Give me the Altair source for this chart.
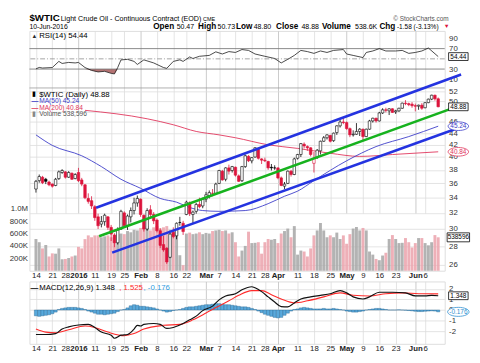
import altair as alt
import pandas as pd

# ------------------------------------------------------------------ data
# daily candles, 14-Dec-2015 .. 10-Jun-2016 (trading days only)
OPEN = [35.2, 36.4, 36.9, 36.6, 36.2, 35.9, 35.7, 36.7, 37.6, 37.7, 36.9, 37.5, 36.7,
        37.6, 36.5, 35.8, 33.9, 33.6, 32.8, 31.5, 30.6, 30.9, 31.5, 30.2, 29.3, 28.4, 30.0, 32.0, 30.4, 31.5, 32.3, 33.3,
        33.8, 31.7, 30.0, 32.4, 31.8, 31.1, 29.8, 28.2, 27.8, 26.8, 29.6, 29.2, 30.8, 30.7, 31.8, 33.3, 31.8, 32.2, 33.1, 32.9,
        33.8, 34.3, 34.6, 34.6, 36.0, 37.8, 36.6, 38.3, 37.9, 38.4, 37.1, 36.4, 38.5, 40.1, 39.4, 40.0, 41.4, 39.7, 39.5, 39.3, 38.4, 38.3,
        38.3, 36.8, 35.6, 36.0, 37.8, 37.3, 39.8, 40.4, 42.1, 41.7, 41.5, 39.0, 39.9, 41.0, 42.6, 43.2, 43.6, 42.7, 44.1, 45.3, 46.0,
        45.9, 44.8, 43.7, 43.8, 44.3, 44.7, 43.4, 44.7, 46.2, 46.7, 46.2, 47.7, 48.3, 48.1, 48.5, 47.9, 48.1, 48.6, 49.6, 49.5, 49.4,
        49.1, 49.0, 49.2, 48.7, 49.7, 50.4, 51.2, 50.47]
HIGH = [36.5, 37.3, 37.1, 36.8, 36.4, 36.0, 36.8, 37.9, 38.1, 37.8, 37.8, 37.6, 37.5,
        38.3, 36.8, 35.9, 34.6, 34.2, 33.0, 31.9, 31.6, 31.9, 31.6, 30.5, 29.5, 30.2, 32.4, 32.2, 31.8, 32.7, 34.0, 34.3,
        33.9, 31.8, 32.6, 33.0, 32.1, 31.3, 30.1, 29.2, 27.9, 29.5, 30.2, 30.8, 31.5, 31.0, 33.6, 33.5, 32.3, 33.3, 34.0, 34.0,
        34.8, 35.0, 35.2, 36.1, 38.0, 38.0, 38.4, 38.8, 38.6, 38.5, 37.3, 38.6, 40.4, 40.3, 40.0, 41.6, 41.5, 39.8, 39.9, 39.4, 38.9, 38.7,
        38.4, 37.0, 36.2, 37.9, 38.0, 39.9, 40.5, 42.3, 42.4, 41.9, 41.6, 40.8, 41.3, 42.7, 43.5, 43.8, 43.7, 44.1, 45.4, 46.5, 46.8,
        46.1, 45.0, 44.5, 45.8, 44.9, 44.8, 44.8, 46.4, 46.8, 46.8, 47.9, 48.6, 48.7, 48.6, 48.6, 48.3, 48.7, 49.7, 50.2, 49.7, 49.8,
        49.5, 49.3, 49.6, 49.8, 50.5, 51.3, 51.3, 50.73]
LOW = [34.7, 36.1, 35.9, 35.9, 35.6, 35.4, 35.6, 36.5, 37.4, 36.7, 36.8, 36.5, 36.6,
       36.2, 35.6, 33.8, 33.2, 32.5, 31.0, 30.0, 30.2, 30.4, 29.9, 28.6, 27.9, 28.2, 29.9, 30.2, 29.9, 30.8, 31.8, 32.8,
       31.5, 29.7, 29.8, 31.3, 30.6, 29.6, 27.8, 27.4, 26.1, 26.7, 28.9, 28.8, 30.4, 29.3, 31.7, 31.6, 30.6, 31.9, 32.6, 32.6,
       33.4, 33.9, 34.2, 34.5, 35.9, 36.4, 36.3, 37.3, 37.6, 37.0, 36.2, 36.2, 38.3, 39.2, 39.0, 39.9, 39.6, 38.9, 39.2, 38.0, 37.9, 38.0,
       36.6, 35.6, 35.2, 35.9, 37.0, 37.2, 39.6, 40.0, 41.4, 41.0, 40.1, 37.6, 39.7, 40.4, 42.5, 42.9, 42.4, 42.5, 43.7, 45.0, 45.6,
       44.6, 43.3, 43.4, 43.7, 43.5, 42.8, 43.3, 44.6, 45.9, 45.9, 46.1, 47.5, 47.8, 47.3, 47.7, 47.5, 47.9, 48.5, 49.2, 49.0, 48.7,
       48.0, 48.3, 48.3, 48.6, 49.6, 50.2, 50.1, 48.80]
CLOSE = [36.3, 37.0, 36.1, 36.3, 35.8, 35.6, 36.6, 37.7, 37.9, 36.9, 37.6, 36.6, 37.3,
         36.4, 35.9, 34.0, 33.5, 32.9, 31.4, 30.4, 30.9, 31.7, 30.2, 29.4, 28.4, 29.9, 32.2, 30.4, 31.6, 32.3, 33.3, 33.9,
         31.8, 30.0, 32.3, 31.8, 31.0, 29.8, 28.1, 27.6, 26.3, 29.4, 29.1, 30.7, 30.8, 29.7, 33.4, 31.9, 32.1, 33.1, 32.8, 33.8,
         34.4, 34.7, 34.6, 35.9, 37.9, 36.5, 38.3, 37.8, 38.5, 37.2, 36.3, 38.5, 40.2, 39.4, 39.9, 41.5, 39.8, 39.5, 39.4, 38.3, 38.3, 38.3,
         36.8, 35.7, 35.9, 37.8, 37.3, 39.7, 40.4, 42.2, 41.8, 41.5, 40.4, 39.8, 41.1, 42.6, 43.2, 43.7, 42.6, 44.0, 45.3, 46.0, 45.9,
         44.8, 43.7, 43.8, 44.3, 44.7, 43.4, 44.7, 46.2, 46.7, 46.2, 47.7, 48.3, 48.2, 48.5, 47.8, 48.1, 48.6, 49.6, 49.5, 49.3, 49.1,
         49.0, 49.2, 48.6, 49.7, 50.4, 51.2, 50.46, 48.88]
VOLUME_K = [510, 460, 360, 415, 230, 280, 275, 360, 185, 190, 205, 230, 245,
            385, 360, 510, 570, 540, 570, 570, 540, 555, 570, 540, 560, 590, 600, 590, 640, 620, 660, 650,
            690, 700, 720, 650, 700, 720, 680, 700, 720, 660, 650, 640, 250, 90, 600, 615, 590, 600, 620, 590,
            610, 600, 640, 650, 660, 640, 650, 600, 620, 460, 230, 325, 400, 630, 446, 450, 460, 275, 460, 512, 500, 512,
            446, 600, 640, 680, 540, 720, 260, 325, 310, 230, 360, 570, 650, 770, 650, 540, 570, 540, 615, 512, 570,
            435, 590, 680, 705, 650, 690, 650, 310, 260, 190, 170, 245, 290, 512, 575, 512, 446, 450, 527, 460, 375,
            446, 527, 527, 446, 410, 460, 575, 539]
MA50_I = [0, 5, 14, 20, 26, 32, 38, 43, 47, 51, 56, 64, 71, 76, 80, 85, 95, 104, 114, 123]
MA50_V = [43.7, 41.9, 40.2, 38.5, 36.6, 35.3, 33.9, 33.4, 32.7, 32.3, 32.2, 32.3, 33.2, 34.2, 34.9, 36.4, 39.4, 41.7, 43.4, 45.24]
MA200_I = [15, 34, 42, 49, 56, 61, 71, 80, 90, 99, 109, 123]
MA200_V = [48.2, 46.6, 45.5, 44.3, 43.7, 43.2, 42.0, 41.4, 40.6, 40.1, 40.4, 40.84]
RSI_I = [0, 1, 2, 5, 7, 8, 10, 12, 13, 15, 17, 19, 21, 23, 24, 25, 26, 28, 30, 31, 33, 36, 39, 40, 42, 44, 45, 47, 48, 50,
         53, 55, 57, 59, 61, 63, 65, 67, 70, 73, 75, 77, 79, 81, 83, 85, 87, 89, 91, 94, 95, 97, 100, 101, 103, 105, 107,
         110, 112, 114, 116, 118, 120, 123]
RSI_V = [30.4, 33.2, 32, 33, 45, 41, 43, 42, 43, 33, 27.4, 24.4, 25.6, 21.6, 20.5, 33, 47.9, 49, 45, 39, 48, 42, 33, 31.4,
         45, 48, 45, 53.7, 50.7, 55, 56.7, 63.7, 59.5, 64.2, 62.5, 68.2, 66.5, 59.5, 55, 50.7, 42, 49, 56.7, 66.5, 64.2,
         60.7, 65.4, 62.5, 66.5, 68.2, 59.5, 56.7, 52.5, 62.5, 65.4, 70, 65.4, 65.4, 66.5, 60.7, 62.5, 65.4, 71.2, 54.44]
MACD_I = [0, 3, 6, 8, 10, 13, 16, 18, 20, 23, 24, 26, 28, 30, 31, 32, 33, 36, 38, 40, 42, 45, 47, 49, 51, 54, 56, 58, 61,
          63, 66, 67, 69, 71, 73, 75, 77, 79, 81, 84, 87, 90, 93, 95, 97, 100, 102, 105, 109, 113, 116, 119, 121, 123]
MACD_V = [-2.32, -2.32, -2.23, -1.8, -1.6, -1.42, -1.36, -1.65, -2.09, -2.38, -2.67, -2.38, -2.32, -1.8, -1.45, -1.51,
          -1.36, -1.28, -1.36, -1.74, -1.65, -1.28, -0.93, -0.58, -0.06, 0.37, 0.96, 1.33, 1.54, 1.91, 2.2, 2.1, 1.74,
          1.24, 0.75, 0.32, 0.29, 0.67, 1.04, 1.24, 1.39, 1.54, 1.83, 1.62, 1.24, 1.04, 1.24, 1.68, 1.68, 1.62, 1.33,
          1.33, 1.39, 1.348]
SIGNAL_I = [0, 3, 6, 10, 15, 18, 22, 27, 30, 33, 39, 44, 48, 52, 55, 59, 62, 66, 69, 72, 75, 79, 83, 88, 93, 97, 102,
            107, 112, 117, 123]
SIGNAL_V = [-1.8, -2.09, -2.15, -1.86, -1.51, -1.65, -2.09, -2.43, -2.23, -1.8, -1.45, -1.36, -0.93, -0.29, 0.23, 0.87,
            1.39, 1.83, 1.83, 1.45, 1.04, 0.67, 0.87, 1.24, 1.62, 1.39, 1.33, 1.54, 1.62, 1.54, 1.525]
HIST = [-0.55, -0.6, -0.55, -0.5, -0.45, -0.35, -0.2,
        0.05, 0.15, 0.2, 0.25, 0.25, 0.25, 0.2, 0.15, 0.05,
        -0.1, -0.2, -0.3, -0.4, -0.4, -0.45, -0.4, -0.35, -0.3, -0.15,
        0.0, 0.05, 0.2,
        0.4, 0.5, 0.45, 0.35, 0.35, 0.3, 0.25, 0.2, 0.1, 0.0,
        -0.1, -0.2, -0.15, -0.05, 0.0, 0.05,
        0.15, 0.25, 0.3, 0.3, 0.35, 0.4, 0.45,
        0.5, 0.5, 0.55, 0.6, 0.6, 0.55, 0.5, 0.5, 0.45,
        0.4, 0.35, 0.3, 0.3, 0.25, 0.15, 0.05,
        -0.1, -0.25, -0.4, -0.5, -0.6, -0.7, -0.75, -0.7, -0.5,
        -0.3, -0.1, 0.05, 0.1,
        0.2, 0.25, 0.2, 0.15, 0.1,
        0.1, 0.1, 0.15, 0.1, 0.1, 0.15, 0.1, 0.05, 0.0,
        -0.1, -0.15, -0.2, -0.2, -0.15, -0.1, 0.0,
        0.05, 0.1, 0.15, 0.15, 0.1, 0.05, 0.0,
        0.0, 0.0, 0.02, 0.0, -0.02, -0.05, -0.08,
        -0.12, -0.15, -0.15, -0.12, -0.1, -0.08, -0.1, -0.176]
TREND_NAME = ["upper", "upper", "middle", "middle", "lower", "lower"]
TREND_I = [18.4, 130, 19.3, 130, 23.3, 130]
TREND_V = [32.67, 55.6, 29.15, 49.2, 27.3, 45.1]
TICK_IDX = [0, 5, 9, 13, 18, 23, 27, 32, 37, 42, 46, 52, 56, 61, 66, 70, 74, 80, 85, 90, 95, 100, 105, 110, 116, 119]
TICK_LABELS = ["14", "21", "28", "2016", "11", "19", "25", "Feb", "8", "16", "22", "Mar", "7", "14", "21", "28",
               "Apr", "11", "18", "25", "May", "9", "16", "23", "Jun", "6"]
BOLD_TICKS = ["2016", "Feb", "Mar", "Apr", "May", "Jun"]
PRICE_TICKS = [26, 28, 30, 32, 34, 36, 38, 40, 42, 44, 46, 48, 50, 52]
HIDDEN_PRICE_LABELS = [48]
VOL_TICKS = [200000, 400000, 600000, 800000, 1000000]
RSI_TICKS = [10, 30, 70, 90]
MACD_TICKS = [-2, -1, 0, 1, 2]

# ------------------------------------------------------------------ style
SANS = "Liberation Sans"
W = 426
H_RSI, H_PRICE, H_MACD = 58, 187, 64
H_TOP = H_RSI + 1 + H_PRICE
P0 = H_RSI + 1          # top of the price area inside the upper panel
N = len(CLOSE)
RED = "#dc143c"
MA50_C = "#3a3ac8"
MA200_C = "#e0345a"
TBLUE = "#2433e0"
TGREEN = "#16b21e"
TAGX = W + 14
BOX = "M-1,-0.4L1,-0.4L1,0.4L-1,0.4Z"
OVAL = "M-1,0A1,0.42,0,1,1,1,0A1,0.42,0,1,1,-1,0Z"
GRID = "#dcdcdc"

XSCALE = alt.Scale(domain=[-0.5, N - 0.5], nice=False, zero=False)
RSCALE = alt.Scale(domain=[-6, 104.6], range=[H_RSI, 0], nice=False, zero=False)
PSCALE = alt.Scale(type="log", domain=[25.4, 52.6], range=[H_TOP, P0], nice=False, zero=False)
VSCALE = alt.Scale(domain=[0, 2940000], range=[H_TOP, P0], nice=False, zero=False)
MSCALE = alt.Scale(domain=[-3.2, 2.7], nice=False, zero=False)

tick_list = ",".join(str(t) for t in TICK_IDX)
lab_list = ",".join("'" + s + "'" for s in TICK_LABELS)
LABEL_EXPR = "[" + lab_list + "][indexof([" + tick_list + "], datum.value)]"
bold_idx = ",".join(str(t) for t, s in zip(TICK_IDX, TICK_LABELS) if s in BOLD_TICKS)
BOLD_TEST = "indexof([" + bold_idx + "], datum.value) >= 0"
GRID_X = {"condition": {"test": BOLD_TEST, "value": "#bdbdbd"}, "value": GRID}

DATE_AXIS = alt.Axis(values=TICK_IDX, labelExpr=LABEL_EXPR,
                     labelFontWeight={"condition": {"test": BOLD_TEST, "value": "bold"}, "value": "normal"},
                     labelFontSize=8, labelPadding=1, labelFlush=False, labelOverlap=False, labelBound=False,
                     labelColor="#222", ticks=False, domain=False, grid=True, gridColor=GRID_X, gridWidth=0.8,
                     title=None)


def right_axis(values, grid=False, expr=None):
    kw = dict(orient="right", values=values, title=None, ticks=False, domain=False, grid=grid,
              gridColor=GRID, gridWidth=0.8, labelFontSize=8, labelPadding=4, labelColor="#333",
              labelOverlap=False)
    if expr:
        kw["labelExpr"] = expr
    return alt.Axis(**kw)


hidden = ",".join(str(v) for v in HIDDEN_PRICE_LABELS)
RSI_AXIS = right_axis(RSI_TICKS)
PRICE_AXIS = right_axis(PRICE_TICKS, grid=True,
                        expr="indexof([" + hidden + "], datum.value) >= 0 ? '' : '' + datum.value")
MACD_AXIS = right_axis(MACD_TICKS, grid=True, expr="'' + datum.value")
VOL_AXIS = alt.Axis(orient="left", values=VOL_TICKS,
                    labelExpr=("datum.value >= 1000000 ? format(datum.value / 1000000, '.1f') + 'M' : "
                               "format(datum.value / 1000, 'd') + 'K'"),
                    title=None, ticks=False, domain=False, grid=False, labelFontSize=8, labelPadding=2,
                    labelColor="#333", labelOverlap=False)

X = alt.X("i:Q", scale=XSCALE, axis=DATE_AXIS)


def Yr(field):
    return alt.Y(field, scale=RSCALE, axis=RSI_AXIS)


def Yp(field):
    return alt.Y(field, scale=PSCALE, axis=PRICE_AXIS)


def Yv(field):
    return alt.Y(field, scale=VSCALE, axis=VOL_AXIS)


def Ym(field):
    return alt.Y(field, scale=MSCALE, axis=MACD_AXIS)


ONE = pd.DataFrame({"k": [0]})


def label(text, x, y, size=8, weight="normal", color="#000", align="left"):
    return alt.Chart(ONE).mark_text(text=text, align=align, baseline="alphabetic", font=SANS, fontSize=size,
                                    fontWeight=weight, color=color).encode(x=alt.value(x), y=alt.value(y))


def tags(values, texts, colors, shapes, widths, ychan):
    df = pd.DataFrame({"v": values, "t": texts, "col": colors, "shape": shapes,
                       "sz": [w * w for w in widths]})
    box = alt.Chart(df).mark_point(filled=True, fill="white", opacity=1, strokeWidth=0.8).encode(
        x=alt.value(TAGX), y=ychan("v:Q"), shape=alt.Shape("shape:N", scale=None),
        size=alt.Size("sz:Q", scale=None), stroke=alt.Stroke("col:N", scale=None))
    txt = alt.Chart(df).mark_text(font=SANS, fontSize=6.6, baseline="middle").encode(
        x=alt.value(TAGX), y=ychan("v:Q"), text="t:N", color=alt.Color("col:N", scale=None))
    return [box, txt]


# ------------------------------------------------------------------ frames
prev_close = [OPEN[0]] + CLOSE[:-1]
up = [c >= p for c, p in zip(CLOSE, prev_close)]
days = pd.DataFrame({"i": list(range(N)), "open": OPEN, "high": HIGH, "low": LOW, "close": CLOSE,
                     "vol": [v * 1000 for v in VOLUME_K], "hist": HIST})
days["edge"] = ["#000000" if u else RED for u in up]
days["body"] = ["#ffffff" if c >= o else e for c, o, e in zip(CLOSE, OPEN, days["edge"])]
days["volc"] = ["#a6a6a6" if u else "#eba2ab" for u in up]

ma50 = pd.DataFrame({"i": MA50_I, "v": MA50_V})
ma200 = pd.DataFrame({"i": MA200_I, "v": MA200_V})
rsi = pd.DataFrame({"i": RSI_I, "v": RSI_V})
macd = pd.DataFrame({"i": MACD_I, "v": MACD_V})
signal = pd.DataFrame({"i": SIGNAL_I, "v": SIGNAL_V})
trend = pd.DataFrame({"line": TREND_NAME, "i": TREND_I, "v": TREND_V})

# ------------------------------------------------------------------ RSI area (top of upper panel)
rsi_fill = alt.Chart(rsi).transform_calculate(lo="min(datum.v, 30)", th="30").mark_area(
    color="#a85a5a", opacity=0.85).encode(x=X, y=Yr("lo:Q"), y2="th:Q")
rsi_rules = alt.Chart(pd.DataFrame({"v": [70, 30]})).mark_rule(color="#7a7a7a", strokeWidth=0.9).encode(
    y=Yr("v:Q"))
rsi_mid = alt.Chart(pd.DataFrame({"v": [50]})).mark_rule(color="#8a8a8a", strokeWidth=0.8,
                                                          strokeDash=[5, 2, 1, 2]).encode(y=Yr("v:Q"))
rsi_line = alt.Chart(rsi).mark_line(color="#1a1a1a", strokeWidth=0.8).encode(x=X, y=Yr("v:Q"))
separator = alt.Chart(ONE).mark_rule(color="#9a9a9a", strokeWidth=0.8).encode(
    x=alt.value(0), x2=alt.value(W), y=alt.value(H_RSI + 0.5))

header = [
    label("$WTIC", 0, -10.5, 10, "bold"),
    label("Light Crude Oil - Continuous Contract (EOD)", 32, -10.5, 7.3),
    label("CME", 178, -10.5, 5.6),
    label("\u00a9 StockCharts.com", 430, -10.5, 6.6, color="#555", align="right"),
    label("10-Jun-2016", 0, -2, 7),
    label("Open", 127, -2, 8.4, "bold"), label("50.47", 151, -2, 7.2),
    label("High", 173, -2, 8.4, "bold"), label("50.73", 193, -2, 7.2),
    label("Low", 212, -2, 8.4, "bold"), label("48.80", 230, -2, 7.2),
    label("Close", 253, -2, 8.4, "bold"), label("48.88", 279, -2, 7.2),
    label("Volume", 300, -2, 8.4, "bold"), label("538.6K", 334, -2, 7.2),
    label("Chg", 359, -2, 8.4, "bold"), label("-1.58 (-3.13%)", 377, -2, 6.7),
    label("\u25bc", 425, -2.5, 6, color=RED),
]
rsi_legend = [label("\u25b2", 2, 7, 6, color="#2a2a2a"), label("RSI(14) 54.44", 10, 7.5, 8)]

rsi_layer = alt.layer(
    rsi_fill, rsi_rules, rsi_mid, rsi_line, separator,
    *tags([54.44], ["54.44"], ["#000"], [BOX], [20], Yr),
    *rsi_legend, *header,
)

# ------------------------------------------------------------------ price area
vol_bars = alt.Chart(days).mark_bar(size=3.0, opacity=0.85).encode(
    x=X, y=Yv("vol:Q"), fill=alt.Fill("volc:N", scale=None))
vol_layer = alt.layer(vol_bars, *tags([538596], ["538596"], ["#000"], [BOX], [23], Yv))

wicks = alt.Chart(days).mark_rule(strokeWidth=0.8).encode(
    x=X, y=Yp("low:Q"), y2="high:Q", stroke=alt.Stroke("edge:N", scale=None))
bodies = alt.Chart(days).mark_bar(size=2.6, strokeWidth=0.6).encode(
    x=X, y=Yp("open:Q"), y2="close:Q",
    fill=alt.Fill("body:N", scale=None), stroke=alt.Stroke("edge:N", scale=None))
ma200_line = alt.Chart(ma200).mark_line(color=MA200_C, strokeWidth=0.9, interpolate="monotone").encode(
    x=X, y=Yp("v:Q"))
ma50_line = alt.Chart(ma50).mark_line(color=MA50_C, strokeWidth=0.9, interpolate="monotone").encode(
    x=X, y=Yp("v:Q"))
trend_lines = alt.Chart(trend).mark_line(strokeWidth=2.6).encode(
    x=X, y=Yp("v:Q"), detail="line:N",
    color=alt.Color("line:N", scale=alt.Scale(domain=["upper", "middle", "lower"],
                                              range=[TBLUE, TGREEN, TBLUE]), legend=None))
price_legend = [
    label("\u25ae", 3, P0 + 8, 7), label("$WTIC (Daily) 48.88", 10, P0 + 8.5, 8),
    label("\u2014", 2, P0 + 15, 7, "bold", MA50_C), label("MA(50) 45.24", 10, P0 + 15, 6.8, color=MA50_C),
    label("\u2014", 2, P0 + 22, 7, "bold", MA200_C), label("MA(200) 40.84", 10, P0 + 22, 6.8, color=MA200_C),
    label("\u25ae", 3, P0 + 28.5, 7, color="#888"), label("Volume 538,596", 10, P0 + 28.5, 6.8, color="#555"),
]
price_layer = alt.layer(
    wicks, ma200_line, ma50_line, bodies, trend_lines,
    *tags([48.88, 45.24, 40.84], ["48.88", "45.24", "40.84"], ["#000", MA50_C, MA200_C],
          [BOX, OVAL, OVAL], [20, 21, 21], Yp),
    *price_legend,
)

upper_panel = alt.layer(vol_layer, rsi_layer, price_layer).resolve_scale(y="independent").properties(
    width=W, height=H_TOP)

# ------------------------------------------------------------------ MACD panel
hist_bars = alt.Chart(days).transform_calculate(z="0").mark_bar(
    size=3.3, color="#58a9dc", stroke="#24648f", strokeWidth=0.4).encode(x=X, y=Ym("hist:Q"), y2="z:Q")
signal_line = alt.Chart(signal).mark_line(color="#ff2a2a", strokeWidth=1.1, interpolate="monotone").encode(
    x=X, y=Ym("v:Q"))
macd_line = alt.Chart(macd).mark_line(color="#111", strokeWidth=1.2, interpolate="monotone").encode(
    x=X, y=Ym("v:Q"))
macd_legend = [
    label("\u2014", 1, 8.5, 8, "bold"), label("MACD(12,26,9) 1.348", 10, 8.5, 8),
    label(", 1.525", 92, 8.5, 8, color="#ff2a2a"), label(", -0.176", 117, 8.5, 8, color="#2f9be0"),
]
macd_panel = alt.layer(
    hist_bars, signal_line, macd_line,
    *tags([1.348, -0.176], ["1.348", "-0.176"], ["#000", "#2f8fd0"], [BOX, OVAL], [20, 22], Ym),
    *macd_legend,
).properties(width=W, height=H_MACD)

# ------------------------------------------------------------------ assemble
chart = alt.VConcatChart(
    vconcat=[upper_panel, macd_panel], spacing=0,
    padding={"left": 0, "top": 0, "right": 0, "bottom": 0},
).configure_view(stroke="#9a9a9a", strokeWidth=0.8).configure(background="white")

chart.save("out.html", embed_options={"renderer": "svg", "actions": False})
